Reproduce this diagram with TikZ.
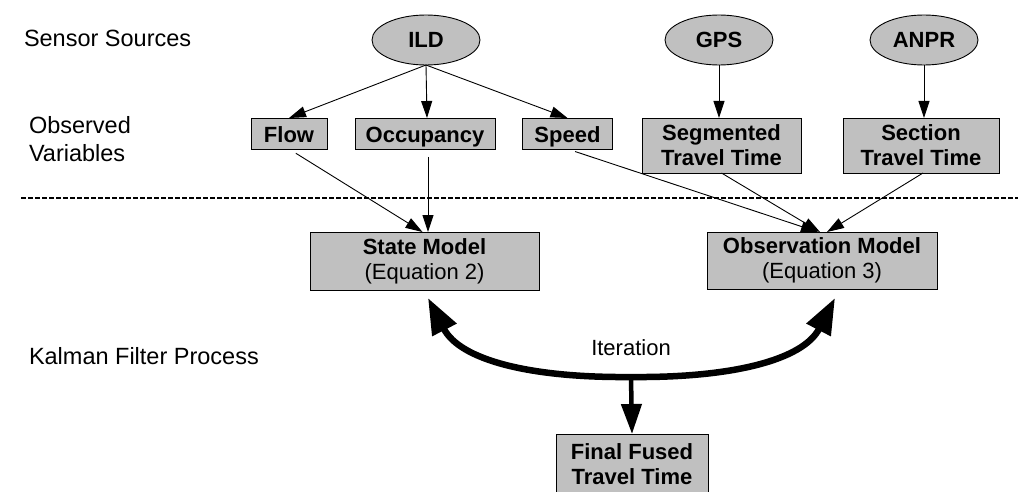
\documentclass[tikz,border=0pt]{standalone}
\usepackage{fontspec}
\setmainfont{Liberation Sans}
\usetikzlibrary{arrows.meta,shapes.geometric,calc}
\definecolor{boxgray}{RGB}{192,192,192}
\begin{document}
\begin{tikzpicture}[x=1pt,y=-1pt,
  every node/.style={inner sep=0pt, outer sep=0pt},
  src/.style={ellipse, draw=black, line width=0.9pt, fill=boxgray,
    minimum width=108pt, minimum height=50pt,
    font=\fontsize{22}{25}\selectfont\bfseries},
  varbox/.style={rectangle, draw=black, line width=0.9pt, fill=boxgray,
    align=center, font=\fontsize{22}{25}\selectfont\bfseries},
  onerow/.style={varbox, minimum height=31pt, text height=19pt, text depth=0pt},
  modelbox/.style={rectangle, draw=black, line width=0.9pt, fill=boxgray,
    align=center, font=\fontsize{22}{25}\selectfont,
    minimum width=229pt, minimum height=58pt},
  lab/.style={anchor=west, align=left, font=\fontsize{23.5}{28}\selectfont},
  thin/.style={line width=0.9pt, -{Triangle[length=17pt,width=11pt]}},
  feed/.style={thin, shorten <=8pt},
  bigarc/.style={line width=6.5pt, -{Triangle[length=36pt,width=26pt]}},
  outarrow/.style={line width=4.5pt, -{Triangle[length=30pt,width=20pt]}},
  divider/.style={line width=1.2pt, dash pattern=on 4.5pt off 2.5pt}
]
\useasboundingbox (0,0) rectangle (1018,492);

% layer labels
\node[lab] (lsrc) at (24,38) {Sensor Sources};
\node[lab] (lobs) at (29,139) {Observed\\Variables};
\node[lab] (lkal) at (29,356) {Kalman Filter Process};

% layer divider
\coordinate (dL) at (21,198);
\coordinate (dR) at (1018,198);
\draw[divider] (dL) -- (dR);

% sensor sources
\node[src] (ILD) at (426,40) {ILD};
\node[src] (GPS) at (719,40) {GPS};
\node[src] (ANPR) at (924,40) {ANPR};

% observed variables
\node[onerow, minimum width=76pt] (Flow) at (289,133.5) {Flow};
\node[onerow, minimum width=140pt] (Occ) at (425,133.5) {Occupancy};
\node[onerow, minimum width=90pt] (Speed) at (567.5,133.5) {Speed};
\node[varbox, minimum width=159pt, minimum height=55pt] (Seg) at (721.5,145.5) {Segmented\\Travel Time};
\node[varbox, minimum width=156pt, minimum height=55pt] (Sec) at (921,145.5) {Section\\Travel Time};

% filter models
\node[modelbox] (State) at (424.5,261) {\textbf{State Model}\\(Equation 2)};
\node[modelbox, minimum width=230pt, minimum height=57pt] (Obs) at (822,260.5) {\textbf{Observation Model}\\(Equation 3)};

% fused output
\node[varbox, minimum width=152pt, minimum height=60pt] (Final) at (632,464) {Final Fused\\Travel Time};

% sources to variables
\draw[thin] (ILD.south) -- (Flow.north);
\draw[thin] (ILD.south) -- ($(Occ.north)+(2,0)$);
\draw[thin] (ILD.south) -- (Speed.north);
\draw[thin] (GPS.south) -- (GPS.south |- Seg.north);
\draw[thin] (ANPR.south) -- (ANPR.south |- Sec.north);

% variables to models
\draw[feed] (Flow.south) -- ($(State.north)+(-2,0)$);
\draw[feed] ($(Occ.south)+(3,0)$) -- ($(State.north)+(3.5,0)$);
\draw[feed] (Speed.south) -- ($(Obs.north)+(-4,0)$);
\draw[thin] (Seg.south) -- ($(Obs.north)+(-2,0)$);
\draw[thin] ($(Sec.south)+(2,0)$) -- ($(Obs.north)+(5,0)$);

% iteration loop and output
\coordinate (J) at (631,377);
\coordinate (StateTip) at ($(State.south)+(3.5,8)$);
\coordinate (ObsTip) at ($(Obs.south)+(13,9)$);
\draw[outarrow] (J) -- (Final.north);
\draw[bigarc] (J) .. controls ($(J)+(-101,1)$) and ($(StateTip)+(32,62)$) .. (StateTip);
\draw[bigarc] (J) .. controls ($(J)+(101,1)$) and ($(ObsTip)+(-32,62)$) .. (ObsTip);
\node[font=\fontsize{22}{25}\selectfont] (iter) at (631,348) {Iteration};
\end{tikzpicture}
\end{document}
